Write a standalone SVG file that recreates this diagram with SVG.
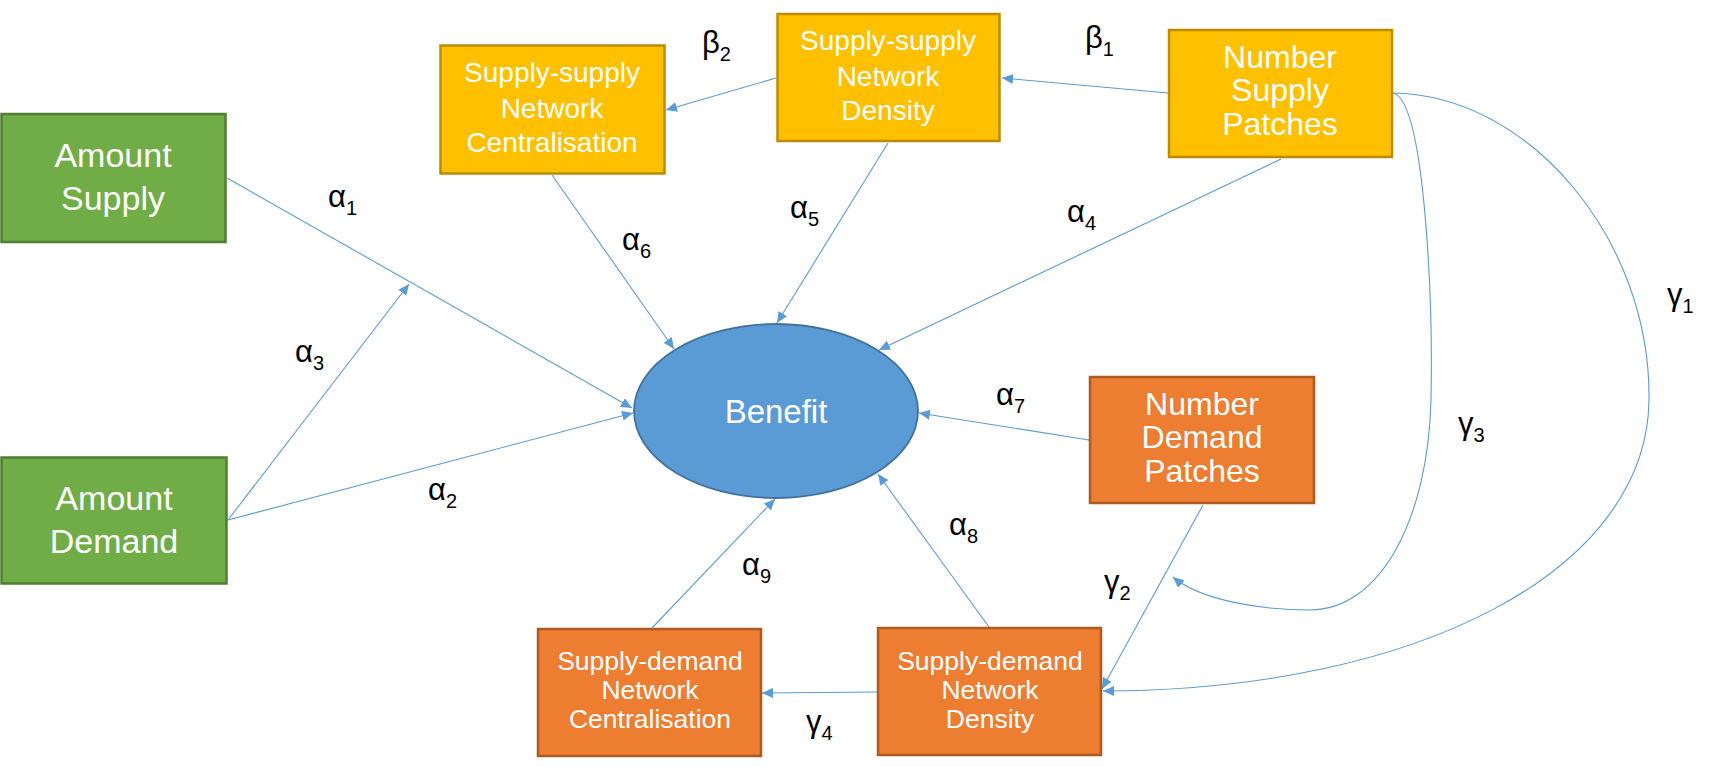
<svg xmlns="http://www.w3.org/2000/svg" width="1713" height="767" viewBox="0 0 1713 767">
<style>
.green{fill:#70AD47;stroke:#507E32;stroke-width:2.5}
.yellow{fill:#FFC000;stroke:#BC8C00;stroke-width:2.5}
.orange{fill:#ED7D31;stroke:#AE5A21;stroke-width:2.5}
.blue{fill:#5B9BD5;stroke:#41719C;stroke-width:1.8}
.t{font-family:"Liberation Sans",Arial,sans-serif;fill:#FFFFFF;text-anchor:middle}
.lbl{font-family:"Liberation Sans",Arial,sans-serif;fill:#000000;font-size:31px}
.sub{font-size:20px}
.c{fill:none;stroke:#5B9BD5;stroke-width:1.1;marker-end:url(#ah)}
</style>
<defs>
<marker id="ah" markerUnits="userSpaceOnUse" markerWidth="12" markerHeight="10" refX="11" refY="5" orient="auto">
<path d="M0,0 L11,5 L0,10 z" fill="#5B9BD5"/>
</marker>
</defs>
<rect width="1713" height="767" fill="#FFFFFF"/>
<g id="connectors">
<path class="c" d="M227,178 L632,408"/>
<path class="c" d="M228,520 L633,413"/>
<path class="c" d="M228,520 L409,284"/>
<path class="c" d="M552,175 L674,349"/>
<path class="c" d="M888,143 L777,323"/>
<path class="c" d="M1281,159 L879,350"/>
<path class="c" d="M1168,93 L1002,78"/>
<path class="c" d="M776,78 L666,110"/>
<path class="c" d="M1089,440 L919,413"/>
<path class="c" d="M989,627 L878,474"/>
<path class="c" d="M652,628 L775,499"/>
<path class="c" d="M877,692 L762,693"/>
<path class="c" d="M1203,505 L1102,689"/>
<path class="c" d="M1393,93 C1530,95 1651,240 1649,400 C1647,570 1420,690 1103,691"/>
<path class="c" d="M1393,93 C1425,100 1433,300 1431,400 C1428,520 1380,610 1310,610 C1260,610 1200,600 1173,577"/>
</g>
<g id="amount-supply">
<rect class="green" x="1.5" y="114" width="224" height="128"/>
<text class="t" font-size="34" x="113" y="167">Amount</text>
<text class="t" font-size="34" x="113" y="210">Supply</text>
</g>
<g id="amount-demand">
<rect class="green" x="1.5" y="457.5" width="225" height="126"/>
<text class="t" font-size="34" x="114" y="510">Amount</text>
<text class="t" font-size="34" x="114" y="553">Demand</text>
</g>
<g id="ss-centralisation">
<rect class="yellow" x="440.5" y="45.5" width="224" height="128"/>
<text class="t" font-size="28" x="552" y="82">Supply-supply</text>
<text class="t" font-size="28" x="552" y="118">Network</text>
<text class="t" font-size="28" x="552" y="152">Centralisation</text>
</g>
<g id="ss-density">
<rect class="yellow" x="777.5" y="14" width="222" height="127"/>
<text class="t" font-size="28" x="888" y="50">Supply-supply</text>
<text class="t" font-size="28" x="888" y="86">Network</text>
<text class="t" font-size="28" x="888" y="120">Density</text>
</g>
<g id="number-supply-patches">
<rect class="yellow" x="1169" y="30" width="223" height="127"/>
<text class="t" font-size="32" x="1280" y="68">Number</text>
<text class="t" font-size="32" x="1280" y="101">Supply</text>
<text class="t" font-size="32" x="1280" y="135">Patches</text>
</g>
<g id="benefit">
<ellipse class="blue" cx="776" cy="411" rx="142" ry="87"/>
<text class="t" font-size="33" x="776" y="423">Benefit</text>
</g>
<g id="number-demand-patches">
<rect class="orange" x="1090" y="377" width="224" height="126"/>
<text class="t" font-size="32" x="1202" y="415">Number</text>
<text class="t" font-size="32" x="1202" y="448">Demand</text>
<text class="t" font-size="32" x="1202" y="482">Patches</text>
</g>
<g id="sd-density">
<rect class="orange" x="878" y="628" width="223" height="127"/>
<text class="t" font-size="26.5" x="990" y="670">Supply-demand</text>
<text class="t" font-size="26.5" x="990" y="699">Network</text>
<text class="t" font-size="26.5" x="990" y="728">Density</text>
</g>
<g id="sd-centralisation">
<rect class="orange" x="538" y="629" width="223" height="127"/>
<text class="t" font-size="26.5" x="650" y="670">Supply-demand</text>
<text class="t" font-size="26.5" x="650" y="699">Network</text>
<text class="t" font-size="26.5" x="650" y="728">Centralisation</text>
</g>
<g id="labels">
<text class="lbl" x="328" y="207">α<tspan class="sub" dy="8">1</tspan></text>
<text class="lbl" x="428" y="500">α<tspan class="sub" dy="8">2</tspan></text>
<text class="lbl" x="295" y="362">α<tspan class="sub" dy="8">3</tspan></text>
<text class="lbl" x="1067" y="222">α<tspan class="sub" dy="8">4</tspan></text>
<text class="lbl" x="790" y="218">α<tspan class="sub" dy="8">5</tspan></text>
<text class="lbl" x="622" y="250">α<tspan class="sub" dy="8">6</tspan></text>
<text class="lbl" x="996" y="405">α<tspan class="sub" dy="8">7</tspan></text>
<text class="lbl" x="949" y="535">α<tspan class="sub" dy="8">8</tspan></text>
<text class="lbl" x="742" y="575">α<tspan class="sub" dy="8">9</tspan></text>
<text class="lbl" x="1085" y="48">β<tspan class="sub" dy="8">1</tspan></text>
<text class="lbl" x="702" y="53">β<tspan class="sub" dy="8">2</tspan></text>
<text class="lbl" x="1667" y="305">γ<tspan class="sub" dy="8">1</tspan></text>
<text class="lbl" x="1104" y="592">γ<tspan class="sub" dy="8">2</tspan></text>
<text class="lbl" x="1458" y="434">γ<tspan class="sub" dy="8">3</tspan></text>
<text class="lbl" x="806" y="732">γ<tspan class="sub" dy="8">4</tspan></text>
</g>
</svg>
